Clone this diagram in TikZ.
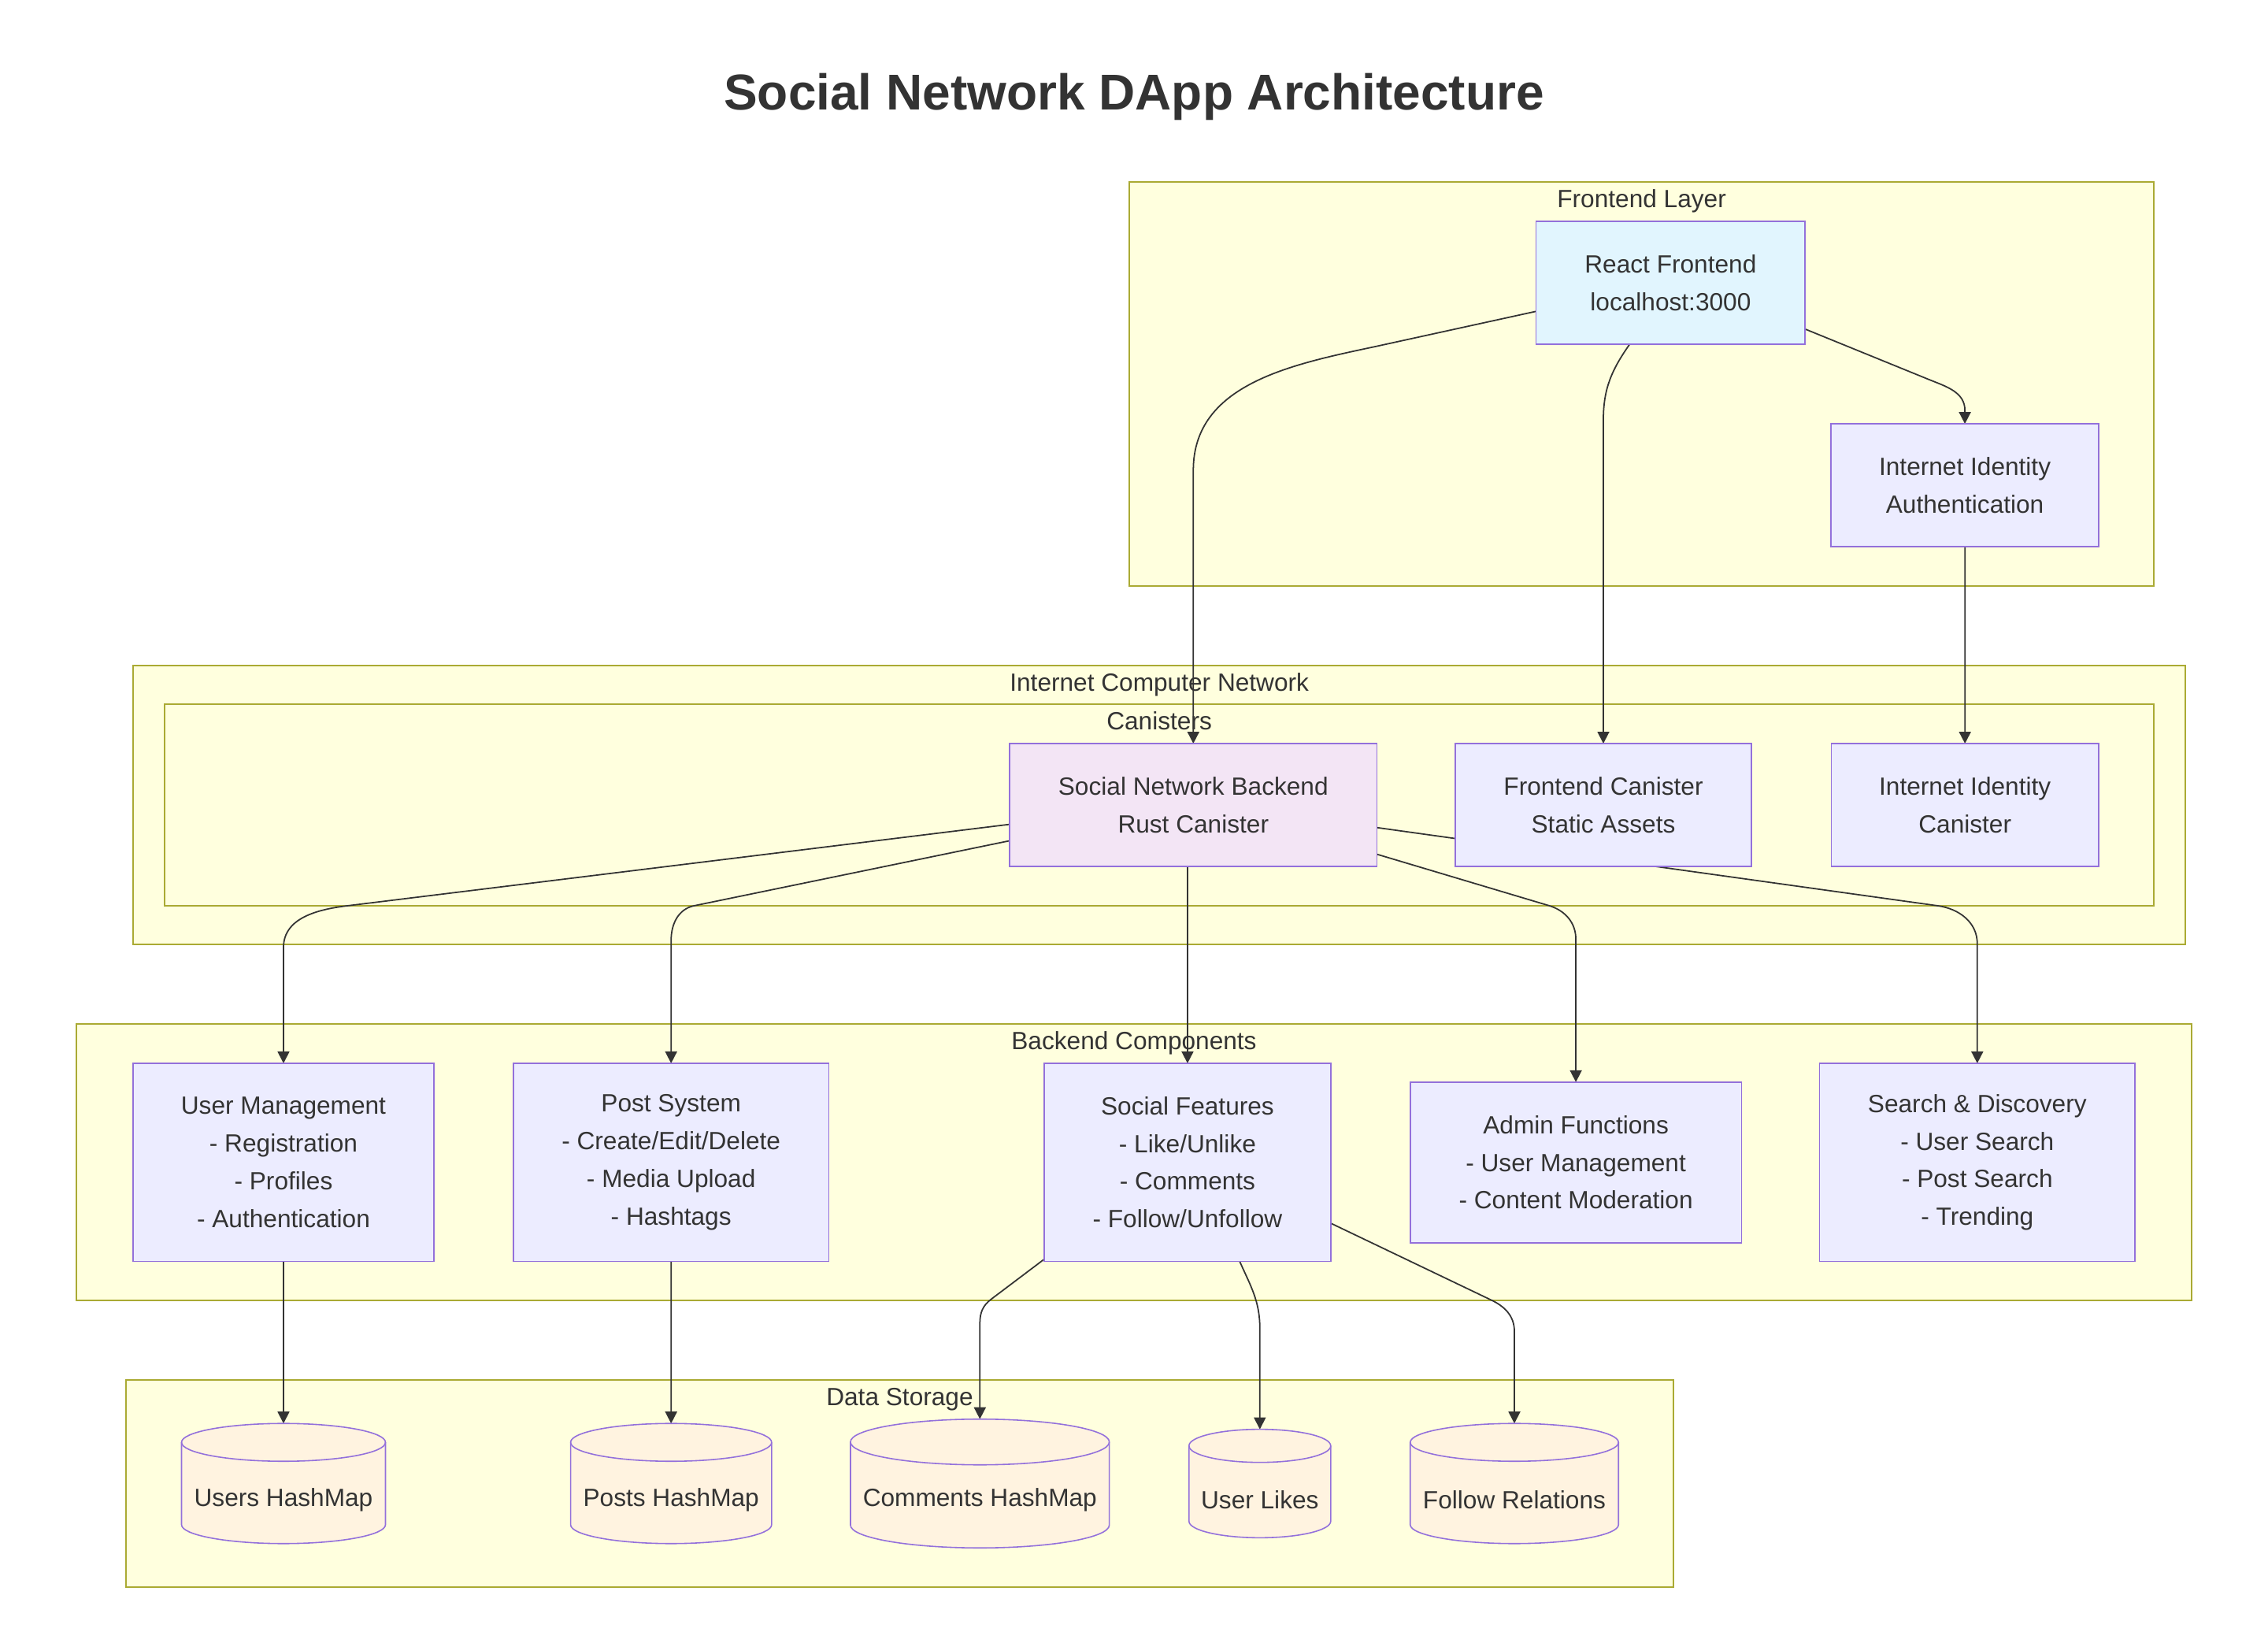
\documentclass[tikz,border=0pt]{standalone}
\usepackage{fontspec}
\setmainfont{Liberation Sans}
\usetikzlibrary{positioning,calc,arrows.meta}
\definecolor{clusterfill}{HTML}{FFFFDE}
\definecolor{clusterline}{HTML}{AAAA33}
\definecolor{boxfill}{HTML}{ECECFF}
\definecolor{boxline}{HTML}{9370DB}
\definecolor{reactfill}{HTML}{E1F5FE}
\definecolor{rustfill}{HTML}{F3E5F5}
\definecolor{storefill}{HTML}{FFF3E0}
\definecolor{ink}{HTML}{333333}
\pgfdeclarelayer{clusters}
\pgfdeclarelayer{links}
\pgfsetlayers{clusters,links,main}
\tikzset{
  every node/.style = {text=ink, font=\fontsize{9pt}{13.6pt}\selectfont},
  cluster/.style    = {draw=clusterline, fill=clusterfill, line width=0.55pt, inner sep=0pt, outer sep=0pt},
  clabel/.style     = {inner sep=0pt, text height=6.5pt, text depth=2pt},
  box/.style        = {draw=boxline, fill=boxfill, line width=0.45pt, align=center,
                       inner sep=0pt, outer sep=0pt, minimum height=1.561cm},
  tallbox/.style    = {box, minimum height=2.516cm},
  storebox/.style   = {inner sep=0pt, outer sep=0pt},
  store/.style      = {draw=boxline, fill=storefill, line width=0.45pt},
  storelabel/.style = {inner sep=0pt},
  link/.style       = {draw=ink, line width=0.5pt, ->},
  title/.style      = {font=\fontsize{18.2pt}{22pt}\selectfont\bfseries},
  >={Triangle[length=1.5mm, width=1.5mm]}
}
\newcommand{\DrawStore}[6]{%
  % named box that holds the cylinder
  \node[storebox, minimum width=#3cm, minimum height=#4cm] (#1) at #2 {};
  % outline: left side, bottom rim, right side, back of the top rim
  \draw[store] ($(#1.north west)+(0,-#5)$) -- ($(#1.south west)+(0,#5)$)
    arc[start angle=180, end angle=360, x radius=#3cm/2, y radius=#5cm]
    -- ($(#1.north east)+(0,-#5)$)
    arc[start angle=0, end angle=180, x radius=#3cm/2, y radius=#5cm] -- cycle;
  % front of the top rim
  \draw[store, fill=none] ($(#1.north west)+(0,-#5)$)
    arc[start angle=180, end angle=360, x radius=#3cm/2, y radius=#5cm];
  % label in the body
  \node[storelabel] (#1-text) at ($(#1.center)+(0,-0.21)$) {#6};
}

\begin{document}
\begin{tikzpicture}
  \useasboundingbox (0,0) rectangle (28.8,20.72);
  \node[title] (title) at (14.40,19.49) {Social Network DApp Architecture};

  % subgraphs
  \begin{pgfonlayer}{clusters}
    \node[cluster, minimum width=13.004cm, minimum height=5.125cm] (frontlayer) at (20.846,15.844) {};
    \node[clabel, below=0.09cm of frontlayer.north] (frontlayer-label) {Frontend Layer};
    \node[cluster, minimum width=26.063cm, minimum height=3.545cm] (icnet) at (14.722,10.499) {};
    \node[clabel, below=0.09cm of icnet.north] (icnet-label) {Internet Computer Network};
    \node[cluster, minimum width=25.254cm, minimum height=2.551cm] (canisters) at (14.721,10.500) {};
    \node[clabel, below=0.09cm of canisters.north] (canisters-label) {Canisters};
    \node[cluster, minimum width=26.853cm, minimum height=3.508cm] (components) at (14.400,5.962) {};
    \node[clabel, below=0.09cm of components.north] (components-label) {Backend Components};
    \node[cluster, minimum width=19.653cm, minimum height=2.626cm] (storage) at (11.425,1.885) {};
    \node[clabel, below=0.09cm of storage.north] (storage-label) {Data Storage};
  \end{pgfonlayer}

  % frontend and canisters
  \node[box, fill=reactfill, minimum width=3.416cm] (react) at (21.214,17.130) {React Frontend\\localhost:3000};
  \node[box, minimum width=3.397cm] (iiauth) at (24.951,14.558) {Internet Identity\\Authentication};
  \node[box, fill=rustfill, minimum width=4.665cm] (backend) at (15.153,10.499) {Social Network Backend\\Rust Canister};
  \node[box, minimum width=3.765cm, right=0.992cm of backend] (fcan) {Frontend Canister\\Static Assets};
  \node[box, minimum width=3.397cm, right=1.011cm of fcan] (iican) {Internet Identity\\Canister};

  % backend components
  \node[tallbox, minimum width=3.820cm] (users-mgmt) at (3.600,5.962)
    {User Management\\- Registration\\- Profiles\\- Authentication};
  \node[tallbox, minimum width=4.004cm, right=1.01cm of users-mgmt] (posts-sys)
    {Post System\\- Create/Edit/Delete\\- Media Upload\\- Hashtags};
  \node[tallbox, minimum width=3.637cm, right=2.737cm of posts-sys] (social)
    {Social Features\\- Like/Unlike\\- Comments\\- Follow/Unfollow};
  \node[box, minimum width=4.206cm, minimum height=2.039cm, right=1.01cm of social] (admin)
    {Admin Functions\\- User Management\\- Content Moderation};
  \node[tallbox, minimum width=4.004cm, right=0.992cm of admin] (search)
    {Search \& Discovery\\- User Search\\- Post Search\\- Trending};

  % data storage
  \DrawStore{usersdb}{(3.600,1.885)}{2.590}{1.525}{0.24}{Users HashMap}
  \DrawStore{postsdb}{(8.522,1.885)}{2.553}{1.525}{0.24}{Posts HashMap}
  \DrawStore{commentsdb}{(12.443,1.885)}{3.287}{1.635}{0.29}{Comments HashMap}
  \DrawStore{likesdb}{(15.998,1.885)}{1.800}{1.377}{0.21}{User Likes}
  \DrawStore{followdb}{(19.230,1.885)}{2.645}{1.525}{0.24}{Follow Relations}

  \begin{pgfonlayer}{links}
    % from the frontend
    \draw[link] (react.192) -- ($(backend.north)+(2.314,5.041)$)
      to[out=192, in=90] ($(backend.north)+(0,3.47)$) -- (backend.north);
    \draw[link] ($(react.south)+(-0.52,0)$) to[out=235, in=90] ($(fcan.north)+(0,4.11)$) -- (fcan.north);
    \draw[link] (react.341) -- ($(iiauth.north)+(-0.45,0.56)$)
      to[out=-22, in=90] ($(iiauth.north)+(0,0.17)$) -- (iiauth.north);
    \draw[link] (iiauth) -- (iican);

    % from the backend canister
    \draw[link] (backend.186) -- ($(users-mgmt.north)+(0.81,2.0)$)
      to[out=187, in=90] ($(users-mgmt.north)+(0,1.47)$) -- (users-mgmt.north);
    \draw[link] (backend.191) -- ($(posts-sys.north)+(0.29,2.0)$)
      to[out=192, in=90] ($(posts-sys.north)+(0,1.56)$) -- (posts-sys.north);
    \draw[link] (backend.south -| social.north) -- (social.north);
    \draw[link] (backend.345) -- ($(admin.north)+(-0.34,2.24)$)
      to[out=-17, in=90] ($(admin.north)+(0,1.81)$) -- (admin.north);
    \draw[link] (backend.353) -- ($(search.north)+(-0.5,2.0)$)
      to[out=-8, in=90] ($(search.north)+(0,1.52)$) -- (search.north);

    % into storage
    \draw[link] (users-mgmt.south) -- (usersdb.north);
    \draw[link] (posts-sys.south) -- (postsdb.north);
    \draw[link] ($(social.south west)+(0,0.03)$) -- ($(commentsdb.north)+(0.14,1.52)$)
      to[out=217, in=90] ($(commentsdb.north)+(0,1.22)$) -- (commentsdb.north);
    \draw[link] ($(social.south)+(0.663,0)$) to[out=-66, in=90] ($(likesdb.north)+(0,1.28)$) -- (likesdb.north);
    \draw[link] (social.337) -- ($(followdb.north)+(-0.3,1.57)$)
      to[out=-25, in=90] ($(followdb.north)+(0,1.17)$) -- (followdb.north);
  \end{pgfonlayer}
\end{tikzpicture}
\end{document}
